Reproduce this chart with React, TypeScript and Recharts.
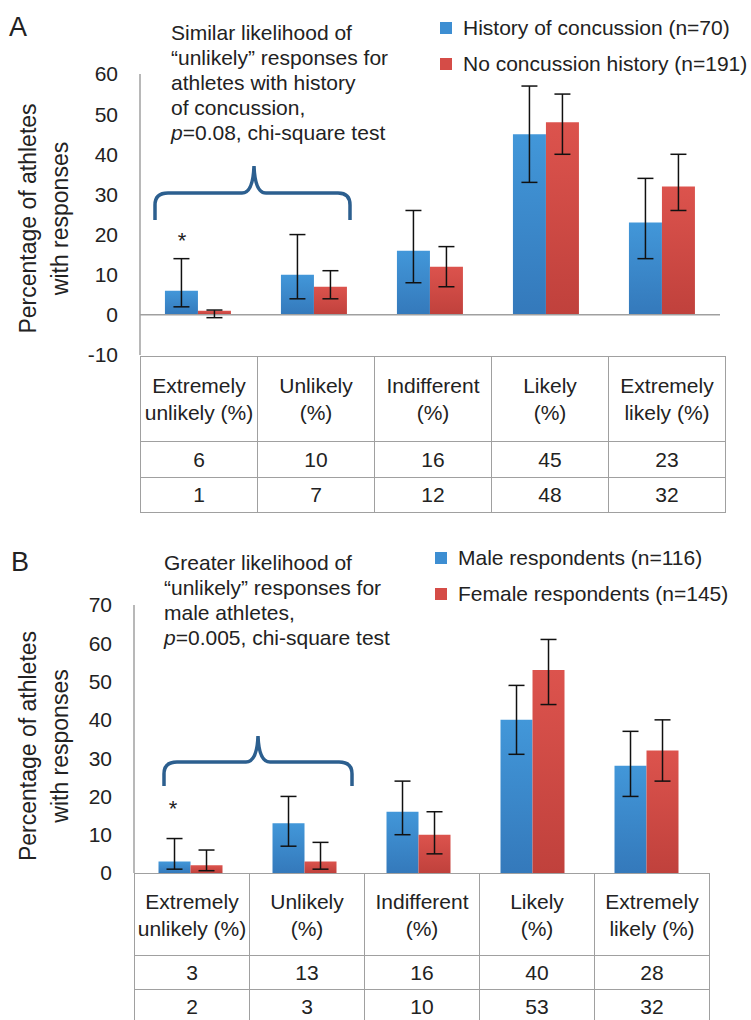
import { BarChart, Bar, XAxis, YAxis, ErrorBar, ReferenceLine, Label } from "recharts";

// categories / table headers
const categories = ["Extremely unlikely (%)", "Unlikely (%)", "Indifferent (%)", "Likely (%)", "Extremely likely (%)"];
const headerLines = [
  ["Extremely", "unlikely (%)"],
  ["Unlikely", "(%)"],
  ["Indifferent", "(%)"],
  ["Likely", "(%)"],
  ["Extremely", "likely (%)"],
];

// panel A
const historyValues = [6, 10, 16, 45, 23];
const historyLow = [2, 4, 8, 33, 14];
const historyHigh = [14, 20, 26, 57, 34];
const noHistoryValues = [1, 7, 12, 48, 32];
const noHistoryLow = [-0.7, 4, 7, 40, 26];
const noHistoryHigh = [1.2, 11, 17, 55, 40];
const ticksA = [-10, 0, 10, 20, 30, 40, 50, 60];

// panel B
const maleValues = [3, 13, 16, 40, 28];
const maleLow = [1, 7, 10, 31, 20];
const maleHigh = [9, 20, 24, 49, 37];
const femaleValues = [2, 3, 10, 53, 32];
const femaleLow = [0.6, 1, 5, 44, 24];
const femaleHigh = [6, 8, 16, 61, 40];
const ticksB = [0, 10, 20, 30, 40, 50, 60, 70];

const FONT = "'Liberation Sans', Arial, sans-serif";
const TEXT = "#222";
const GRID = "#a0a0a0";

const buildData = (v1: number[], lo1: number[], hi1: number[], v2: number[], lo2: number[], hi2: number[]) =>
  categories.map((c, i) => ({
    category: c,
    s1: v1[i],
    s1Err: [v1[i] - lo1[i], hi1[i] - v1[i]],
    s2: v2[i],
    s2Err: [v2[i] - lo2[i], hi2[i] - v2[i]],
  }));

const dataA = buildData(historyValues, historyLow, historyHigh, noHistoryValues, noHistoryLow, noHistoryHigh);
const dataB = buildData(maleValues, maleLow, maleHigh, femaleValues, femaleLow, femaleHigh);

const AxisTitle = (props: any) => {
  const vb = props.viewBox || {};
  const cy = vb.y + vb.height / 2 + (props.dy || 0);
  return (
    <g fontFamily={FONT} fontSize={23} fill={TEXT}>
      <text x={36} y={cy} transform={`rotate(-90, 36, ${cy})`} textAnchor="middle">
        Percentage of athletes
      </text>
      <text x={68} y={cy} transform={`rotate(-90, 68, ${cy})`} textAnchor="middle">
        with responses
      </text>
    </g>
  );
};

const Gradients = () => (
  <defs>
    <linearGradient id="blueGrad" x1="0" y1="0" x2="0" y2="1">
      <stop offset="0%" stopColor="#4297d9" />
      <stop offset="100%" stopColor="#3479bb" />
    </linearGradient>
    <linearGradient id="redGrad" x1="0" y1="0" x2="0" y2="1">
      <stop offset="0%" stopColor="#dc534d" />
      <stop offset="100%" stopColor="#c0413c" />
    </linearGradient>
  </defs>
);

type TableProps = { left: number; top: number; colW: number; rows: number[][]; heights: number[]; openBottom?: boolean };

const DataTable = ({ left, top, colW, rows, heights, openBottom }: TableProps) => {
  const cell = {
    border: `1.5px solid ${GRID}`,
    width: colW,
    padding: 0,
    textAlign: "center" as const,
    fontSize: 21,
    color: TEXT,
  };
  return (
    <table
      style={{
        position: "absolute",
        left,
        top,
        borderCollapse: "collapse",
        tableLayout: "fixed",
        width: colW * categories.length,
        fontFamily: FONT,
      }}
    >
      <tbody>
        <tr style={{ height: heights[0] }}>
          {headerLines.map((l) => (
            <td key={l.join()} style={{ ...cell, lineHeight: "27px" }}>
              {l[0]}
              <br />
              {l[1]}
            </td>
          ))}
        </tr>
        {rows.map((r, ri) => (
          <tr key={ri} style={{ height: heights[ri + 1] }}>
            {r.map((v, i) => (
              <td
                key={i}
                style={{
                  ...cell,
                  ...(openBottom && ri === rows.length - 1 ? { borderBottom: "none", verticalAlign: "top", paddingTop: 5 } : {}),
                }}
              >
                {v}
              </td>
            ))}
          </tr>
        ))}
      </tbody>
    </table>
  );
};

const LegendBox = ({ left, top, items }: { left: number; top: number; items: { name: string; color: string }[] }) => (
  <div style={{ position: "absolute", left, top, fontFamily: FONT, fontSize: 21, color: TEXT }}>
    {items.map((it) => (
      <div key={it.name} style={{ display: "flex", alignItems: "center", height: 36 }}>
        <span style={{ width: 12, height: 12, background: it.color, marginRight: 11, display: "inline-block" }} />
        {it.name}
      </div>
    ))}
  </div>
);

const Note = ({ left, top, lines }: { left: number; top: number; lines: any[] }) => (
  <div style={{ position: "absolute", left, top, fontFamily: FONT, fontSize: 21, lineHeight: "25px", color: TEXT }}>
    {lines.map((l, i) => (
      <div key={i}>{l}</div>
    ))}
  </div>
);

const App = () => {
  return (
    <div style={{ position: "absolute", left: 0, top: 0, width: 751, height: 1020, background: "#fff", overflow: "hidden" }}>
      {/* Panel A */}
      <div style={{ position: "absolute", left: 0, top: 0 }}>
        <BarChart width={751} height={385} data={dataA} margin={{ top: 74, right: 31, left: 0, bottom: 30 }} barCategoryGap="21.5%" barGap={0}>
          <Gradients />
          <XAxis dataKey="category" hide />
          <YAxis
            width={140}
            domain={[-10, 60]}
            ticks={ticksA}
            interval={0}
            tickLine={false}
            tickSize={0}
            tickMargin={22}
            axisLine={{ stroke: GRID, strokeWidth: 1.5 }}
            tick={{ fontSize: 21, fill: TEXT, fontFamily: FONT }}
          >
            <Label content={<AxisTitle dy={4} />} />
          </YAxis>
          <ReferenceLine y={0} stroke={GRID} strokeWidth={1.5} />
          <Bar dataKey="s1" name="History of concussion (n=70)" fill="url(#blueGrad)" isAnimationActive={false}>
            <ErrorBar dataKey="s1Err" width={8} stroke="#111" strokeWidth={1.5} isAnimationActive={false} />
          </Bar>
          <Bar dataKey="s2" name="No concussion history (n=191)" fill="url(#redGrad)" isAnimationActive={false}>
            <ErrorBar dataKey="s2Err" width={8} stroke="#111" strokeWidth={1.5} isAnimationActive={false} />
          </Bar>
        </BarChart>
      </div>
      <DataTable left={140} top={356} colW={116} rows={[historyValues, noHistoryValues]} heights={[85, 36, 35]} />
      <div style={{ position: "absolute", left: 9, top: 12, fontFamily: FONT, fontSize: 27, color: TEXT }}>A</div>
      <Note
        left={171}
        top={20}
        lines={[
          "Similar likelihood of",
          "\u201cunlikely\u201d responses for",
          "athletes with history",
          "of concussion,",
          <span><i>p</i>=0.08, chi-square test</span>,
        ]}
      />
      <LegendBox
        left={440}
        top={10}
        items={[
          { name: "History of concussion (n=70)", color: "#3d8ed2" },
          { name: "No concussion history (n=191)", color: "#d54c47" },
        ]}
      />

      {/* Panel B */}
      <div style={{ position: "absolute", left: 0, top: 500 }}>
        <BarChart width={751} height={405} data={dataB} margin={{ top: 105, right: 47, left: 0, bottom: 32 }} barCategoryGap="21.5%" barGap={0}>
          <Gradients />
          <XAxis dataKey="category" hide />
          <YAxis
            width={134}
            domain={[0, 70]}
            ticks={ticksB}
            interval={0}
            tickLine={false}
            tickSize={0}
            tickMargin={22}
            axisLine={{ stroke: GRID, strokeWidth: 1.5 }}
            tick={{ fontSize: 21, fill: TEXT, fontFamily: FONT }}
          >
            <Label content={<AxisTitle dy={7} />} />
          </YAxis>
          <Bar dataKey="s1" name="Male respondents (n=116)" fill="url(#blueGrad)" isAnimationActive={false}>
            <ErrorBar dataKey="s1Err" width={8} stroke="#111" strokeWidth={1.5} isAnimationActive={false} />
          </Bar>
          <Bar dataKey="s2" name="Female respondents (n=145)" fill="url(#redGrad)" isAnimationActive={false}>
            <ErrorBar dataKey="s2Err" width={8} stroke="#111" strokeWidth={1.5} isAnimationActive={false} />
          </Bar>
        </BarChart>
      </div>
      <DataTable left={134} top={873} colW={114} rows={[maleValues, femaleValues]} heights={[82, 34, 50]} openBottom />
      <div style={{ position: "absolute", left: 11, top: 547, fontFamily: FONT, fontSize: 27, color: TEXT }}>B</div>
      <Note
        left={164}
        top={550}
        lines={[
          "Greater likelihood of",
          "\u201cunlikely\u201d responses for",
          "male athletes,",
          <span><i>p</i>=0.005, chi-square test</span>,
        ]}
      />
      <LegendBox
        left={435}
        top={540}
        items={[
          { name: "Male respondents (n=116)", color: "#3d8ed2" },
          { name: "Female respondents (n=145)", color: "#d54c47" },
        ]}
      />

      {/* braces and significance marks */}
      <svg width={751} height={1020} style={{ position: "absolute", left: 0, top: 0, pointerEvents: "none" }}>
        <path
          d="M155,220 V205 Q155,193 168,193 H242 Q253,193 254,166 Q255,193 266,193 H338 Q350,193 350,205 V220"
          fill="none"
          stroke="#2c5f8f"
          strokeWidth={3.5}
        />
        <path
          d="M164,786 V774 Q164,762 177,762 H246 Q257,762 258,736 Q259,762 270,762 H339 Q352,762 352,774 V786"
          fill="none"
          stroke="#2c5f8f"
          strokeWidth={3.5}
        />
        <text x={182} y={248} textAnchor="middle" fontFamily={FONT} fontSize={22} fill={TEXT}>*</text>
        <text x={173} y={816} textAnchor="middle" fontFamily={FONT} fontSize={22} fill={TEXT}>*</text>
      </svg>
    </div>
  );
};

export default App;
